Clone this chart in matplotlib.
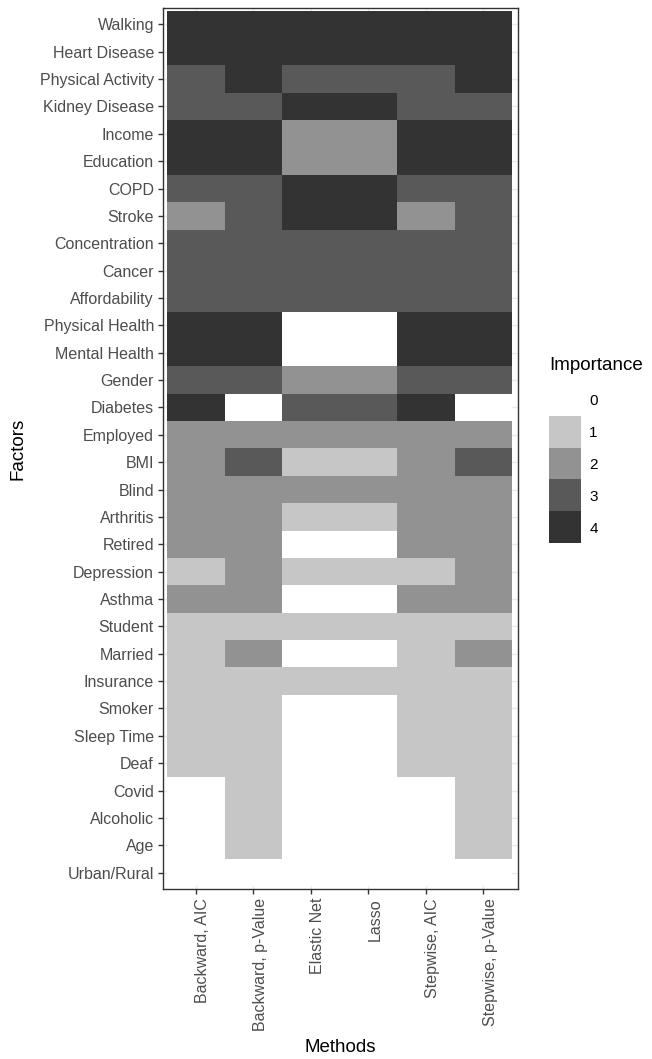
"""
Heatmap of factor importance across variable-selection methods.
"""

import matplotlib.pyplot as plt
import numpy as np
from matplotlib.colors import ListedColormap, BoundaryNorm
from matplotlib.transforms import ScaledTranslation, blended_transform_factory

plt.rcParams["font.family"] = ["Liberation Sans", "DejaVu Sans"]

METHODS = ["Backward, AIC", "Backward, p-Value", "Elastic Net", "Lasso",
           "Stepwise, AIC", "Stepwise, p-Value"]

FACTORS = ["Walking", "Heart Disease", "Physical Activity", "Kidney Disease",
           "Income", "Education", "COPD", "Stroke", "Concentration", "Cancer",
           "Affordability", "Physical Health", "Mental Health", "Gender",
           "Diabetes", "Employed", "BMI", "Blind", "Arthritis", "Retired",
           "Depression", "Asthma", "Student", "Married", "Insurance", "Smoker",
           "Sleep Time", "Deaf", "Covid", "Alcoholic", "Age", "Urban/Rural"]

# one row per factor, one value per method (same order as METHODS)
IMPORTANCE = [
    [4, 4, 4, 4, 4, 4],
    [4, 4, 4, 4, 4, 4],
    [3, 4, 3, 3, 3, 4],
    [3, 3, 4, 4, 3, 3],
    [4, 4, 2, 2, 4, 4],
    [4, 4, 2, 2, 4, 4],
    [3, 3, 4, 4, 3, 3],
    [2, 3, 4, 4, 2, 3],
    [3, 3, 3, 3, 3, 3],
    [3, 3, 3, 3, 3, 3],
    [3, 3, 3, 3, 3, 3],
    [4, 4, 0, 0, 4, 4],
    [4, 4, 0, 0, 4, 4],
    [3, 3, 2, 2, 3, 3],
    [4, 0, 3, 3, 4, 0],
    [2, 2, 2, 2, 2, 2],
    [2, 3, 1, 1, 2, 3],
    [2, 2, 2, 2, 2, 2],
    [2, 2, 1, 1, 2, 2],
    [2, 2, 0, 0, 2, 2],
    [1, 2, 1, 1, 1, 2],
    [2, 2, 0, 0, 2, 2],
    [1, 1, 1, 1, 1, 1],
    [1, 2, 0, 0, 1, 2],
    [1, 1, 1, 1, 1, 1],
    [1, 1, 0, 0, 1, 1],
    [1, 1, 0, 0, 1, 1],
    [1, 1, 0, 0, 1, 1],
    [0, 1, 0, 0, 0, 1],
    [0, 1, 0, 0, 0, 1],
    [0, 1, 0, 0, 0, 1],
    [0, 0, 0, 0, 0, 0],
]

LEVELS = [0, 1, 2, 3, 4]
LEVEL_COLORS = ["#FFFFFF", "#C6C6C6", "#929292", "#595959", "#333333"]

TICK_COLOR = "#4D4D4D"
EDGE_COLOR = "#333333"


def main():
    W, H = 652, 1059
    fig = plt.figure(figsize=(W / 100, H / 100), dpi=100)

    # panel in pixel coordinates: x 163-518, y 8-889
    ax = fig.add_axes([163 / W, 1 - 889 / H, 355 / W, 881 / H])

    cmap = ListedColormap(LEVEL_COLORS)
    norm = BoundaryNorm(np.arange(-0.5, 5.5, 1), cmap.N)
    data = np.array(IMPORTANCE)
    nrow, ncol = data.shape

    ax.pcolormesh(np.arange(ncol + 1) - 0.5, np.arange(nrow + 1) - 0.5, data,
                  cmap=cmap, norm=norm, zorder=2)
    ax.set_xlim(-0.57, ncol - 0.4)
    ax.set_ylim(nrow - 0.4, -0.6)

    ax.set_xticks(range(ncol))
    ax.set_yticks(range(nrow))
    ax.set_yticklabels(FACTORS)
    ax.set_xticklabels([])

    # rotated method labels, nudged right of the tick like the ggplot original
    trans = blended_transform_factory(ax.transData, ax.transAxes) + \
        ScaledTranslation(7 / 100, -9 / 100, fig.dpi_scale_trans)
    for i, name in enumerate(METHODS):
        ax.text(i, 0, name, transform=trans, rotation=90, ha="center",
                va="top", fontsize=11.5, color=TICK_COLOR)

    ax.grid(True, color="#EBEBEB", linewidth=1.0, zorder=0)
    ax.set_axisbelow(True)
    ax.tick_params(axis="both", length=3.5, width=1.0, color=EDGE_COLOR,
                   labelcolor=TICK_COLOR, labelsize=11.5, pad=3)
    for sp in ax.spines.values():
        sp.set_color(EDGE_COLOR)
        sp.set_linewidth(1.0)

    # axis titles placed in figure pixels
    fig.text(340 / W, 1 - 1048 / H, "Methods", fontsize=13.5,
             ha="center", va="center")
    fig.text(18 / W, 1 - 449 / H, "Factors", fontsize=13.5,
             ha="center", va="center", rotation=90)

    # legend: stacked keys, 0 on top
    lax = fig.add_axes([549 / W, 1 - 543 / H, 32 / W, 159 / H])
    lax.imshow(np.array(LEVELS).reshape(-1, 1), cmap=cmap, norm=norm,
               aspect="auto", interpolation="nearest")
    lax.set_xticks([])
    lax.set_yticks(range(len(LEVELS)))
    lax.set_yticklabels([str(v) for v in LEVELS])
    lax.yaxis.tick_right()
    lax.tick_params(axis="y", length=0, labelsize=11, pad=6,
                    labelcolor="black")
    for sp in lax.spines.values():
        sp.set_visible(False)
    fig.text(549 / W, 1 - 365 / H, "Importance", fontsize=13.5,
             ha="left", va="center")

    fig.savefig("out.png", dpi=100)


if __name__ == "__main__":
    main()
